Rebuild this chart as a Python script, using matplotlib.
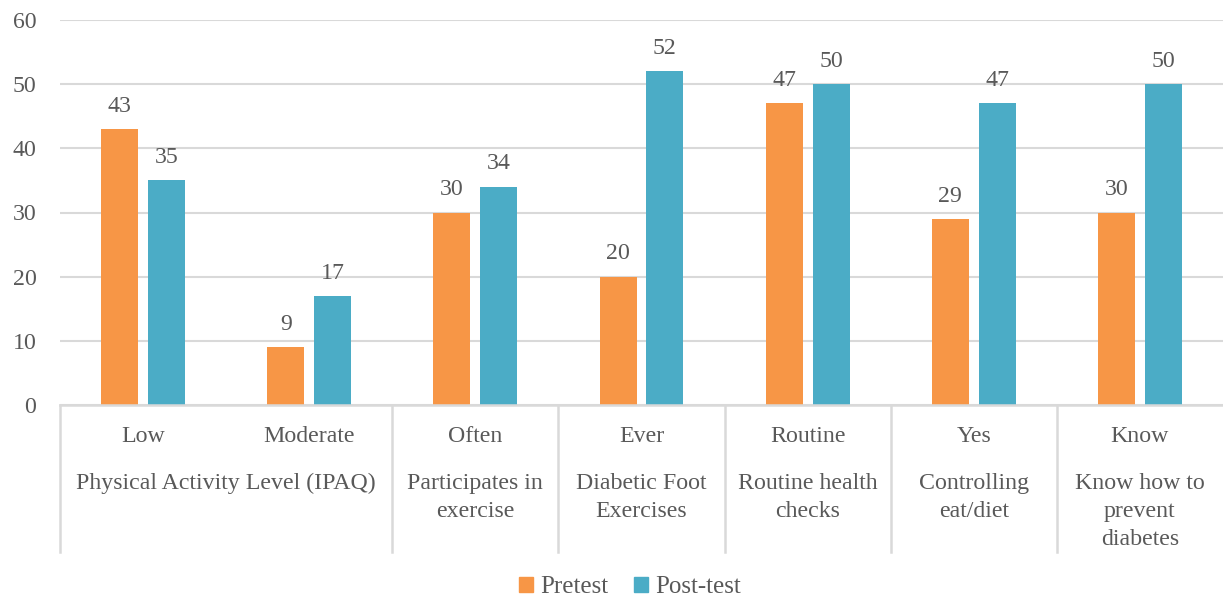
import matplotlib

matplotlib.use("Agg")
import matplotlib.pyplot as plt
import numpy as np
from matplotlib.patches import Patch
from matplotlib.transforms import blended_transform_factory

# ---- data -------------------------------------------------------------------
answers = ["Low", "Moderate", "Often", "Ever", "Routine", "Yes", "Know"]
# second-level groups: (label, first index, last index)
groups = [
    ("Physical Activity Level (IPAQ)", 0, 1),
    ("Participates in\nexercise", 2, 2),
    ("Diabetic Foot\nExercises", 3, 3),
    ("Routine health\nchecks", 4, 4),
    ("Controlling\neat/diet", 5, 5),
    ("Know how to\nprevent\ndiabetes", 6, 6),
]
pretest = [43, 9, 30, 20, 47, 29, 30]
posttest = [35, 17, 34, 52, 50, 47, 50]
y_ticks = [0, 10, 20, 30, 40, 50, 60]

# ---- style ------------------------------------------------------------------
ORANGE = "#F79646"
TEAL = "#4BACC6"
TEXT = "#595959"
GRID = "#D9D9D9"
FONT = "Liberation Serif"
FS = 17.2

W, H = 1223, 599
plt.rcParams["font.family"] = FONT

fig = plt.figure(figsize=(W / 100, H / 100), dpi=100)
ax = fig.add_axes([60 / W, 1 - 405 / H, 1163 / W, 385 / H])

x = np.arange(len(answers))
bw, off = 0.222, 0.141
b1 = ax.bar(x - off, pretest, bw, color=ORANGE, zorder=3)
b2 = ax.bar(x + off, posttest, bw, color=TEAL, zorder=3)

for bars, vals in ((b1, pretest), (b2, posttest)):
    for rect, v in zip(bars, vals):
        ax.annotate(
            f"{v}",
            (rect.get_x() + rect.get_width() / 2, v),
            xytext=(0, 12.5),
            textcoords="offset points",
            ha="center",
            va="baseline",
            fontsize=FS,
            color=TEXT,
        )

ax.set_xlim(-0.5, len(answers) - 0.5)
ax.set_ylim(0, 60)
ax.set_yticks(y_ticks)
ax.tick_params(axis="y", length=0, pad=17, labelsize=FS, labelcolor=TEXT)
ax.set_xticks([])
ax.yaxis.grid(True, color=GRID, lw=1.5, zorder=0)
ax.set_axisbelow(True)
for s in ("left", "right", "top"):
    ax.spines[s].set_visible(False)
ax.spines["bottom"].set_color(GRID)
ax.spines["bottom"].set_linewidth(1.8)
ax.spines["bottom"].set_zorder(4)

# ---- two-level category axis -------------------------------------------------
tr = blended_transform_factory(ax.transData, fig.transFigure)


def fy(px):
    return 1 - px / H


for i, lab in enumerate(answers):
    fig.text(i, fy(437), lab, transform=tr, ha="center", va="center",
             fontsize=FS, color=TEXT)

for lab, a, b in groups:
    fig.text((a + b) / 2, fy(473), lab, transform=tr, ha="center", va="top",
             fontsize=FS, color=TEXT, linespacing=1.43)

# group separators below the axis
edges = [groups[0][1] - 0.5] + [g[2] + 0.5 for g in groups[:-1]]
for e in edges:
    ax.plot([e, e], [fy(405), fy(552)], transform=tr, color=GRID, lw=1.8,
            clip_on=False, zorder=2)

# ---- legend -------------------------------------------------------------------
handles = [Patch(color=ORANGE, label="Pretest"), Patch(color=TEAL, label="Post-test")]
fig.legend(
    handles=handles,
    loc="center",
    bbox_to_anchor=(630 / W, fy(587)),
    ncol=2,
    frameon=False,
    fontsize=FS + 0.8,
    labelcolor=TEXT,
    handlelength=0.56,
    handleheight=0.56,
    handletextpad=0.3,
    columnspacing=1.0,
)

fig.savefig("out.png", dpi=100)
